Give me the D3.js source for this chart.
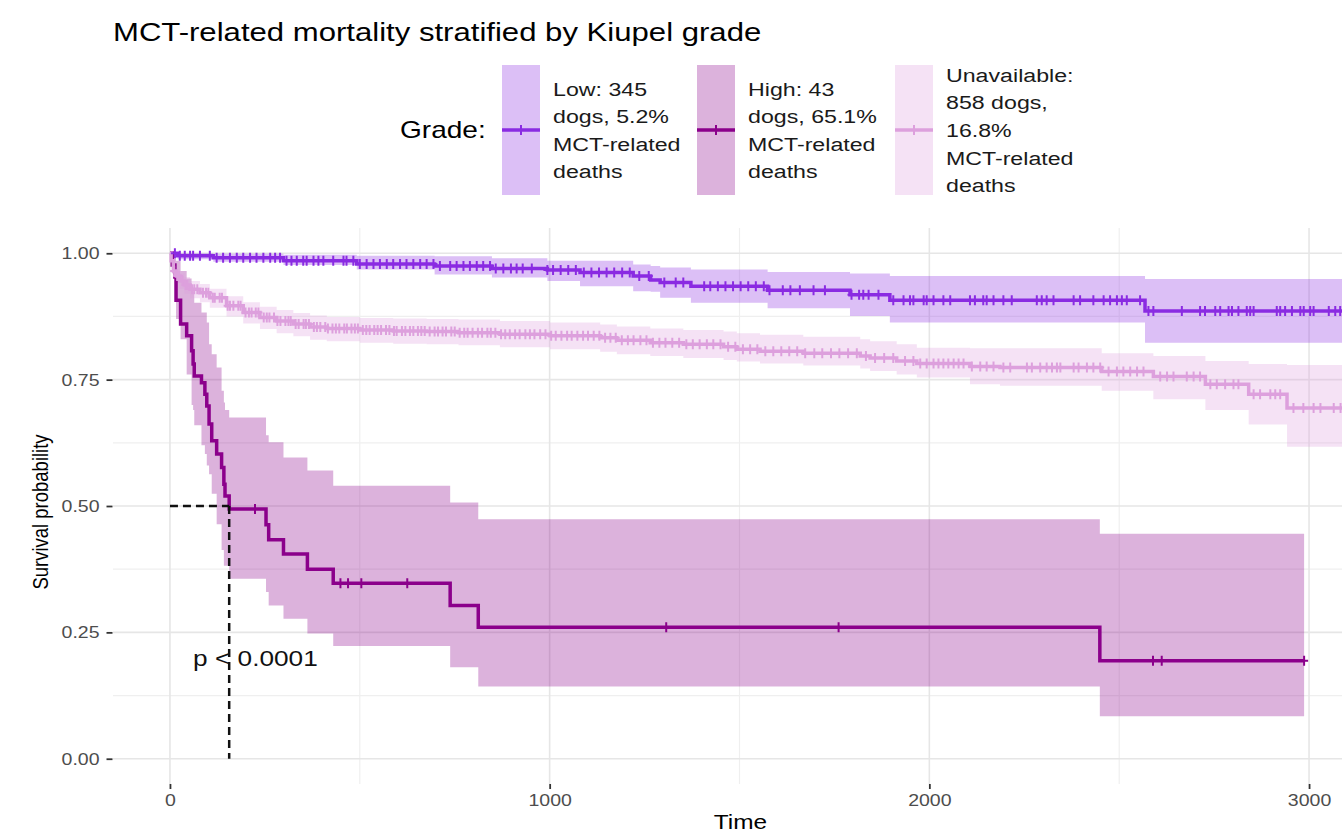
<!DOCTYPE html>
<html>
<head>
<meta charset="utf-8">
<script src="https://cdn.jsdelivr.net/npm/d3@7"></script>
<style>
  body { margin: 0; background: #fff; }
  svg { display: block; font-family: "Liberation Sans", Arial, sans-serif; }
</style>
</head>
<body>
<div id="chart"></div>
<script>
//data: Kaplan-Meier steps (time in days, survival probability)
var lowTime  = [0, 20, 114, 299, 492, 697, 848, 994, 1080, 1220, 1266, 1291, 1372, 1574, 1791, 1896, 2568];
var lowSurv  = [1, 0.995, 0.991, 0.985, 0.979, 0.975, 0.970, 0.967, 0.962, 0.955, 0.947, 0.942, 0.935, 0.927, 0.918, 0.907, 0.886];
var lowUpper = [1, 1, 0.999, 0.997, 0.995, 0.994, 0.990, 0.985, 0.985, 0.978, 0.975, 0.972, 0.968, 0.963, 0.960, 0.955, 0.949];
var lowLower = [1, 0.988, 0.983, 0.977, 0.968, 0.958, 0.952, 0.945, 0.935, 0.925, 0.924, 0.912, 0.902, 0.891, 0.876, 0.863, 0.823];
var lowEnd = 3140;
var lowCensor = [13, 26, 39, 53, 61, 79, 105, 123, 140, 158, 176, 193, 211, 228, 246, 264, 277, 290, 307, 320, 334, 351, 360, 378, 391, 404, 430, 457, 465, 483, 500, 518, 536, 553, 571, 588, 606, 623, 641, 659, 676, 694, 711, 738, 755, 773, 790, 808, 825, 843, 858, 878, 898, 913, 929, 953, 994, 1009, 1029, 1049, 1069, 1090, 1110, 1130, 1150, 1170, 1191, 1211, 1236, 1261, 1302, 1332, 1352, 1407, 1423, 1443, 1463, 1483, 1503, 1523, 1543, 1564, 1579, 1614, 1634, 1659, 1695, 1725, 1795, 1815, 1826, 1840, 1866, 1905, 1932, 1949, 1958, 1985, 1993, 2011, 2037, 2055, 2107, 2120, 2142, 2151, 2169, 2195, 2217, 2283, 2296, 2309, 2327, 2380, 2397, 2432, 2459, 2476, 2494, 2507, 2520, 2555, 2577, 2590, 2665, 2713, 2726, 2753, 2766, 2788, 2797, 2814, 2836, 2845, 2854, 2915, 2924, 2937, 2955, 2977, 2986, 3003, 3012, 3052, 3069, 3082];

var highTime  = [0, 6, 13, 16, 28, 44, 57, 61, 64, 83, 92, 97, 103, 110, 123, 136, 142, 145, 156, 253, 260, 299, 362, 430, 738, 812, 2449];
var highSurv  = [1, 0.977, 0.953, 0.907, 0.860, 0.837, 0.807, 0.781, 0.757, 0.744, 0.721, 0.698, 0.662, 0.629, 0.603, 0.576, 0.543, 0.520, 0.494, 0.463, 0.433, 0.405, 0.375, 0.347, 0.303, 0.260, 0.194];
var highUpper = [1, 1, 0.995, 0.985, 0.965, 0.950, 0.935, 0.925, 0.902, 0.883, 0.883, 0.863, 0.820, 0.800, 0.774, 0.728, 0.705, 0.690, 0.675, 0.640, 0.626, 0.596, 0.570, 0.540, 0.507, 0.474, 0.445];
var highLower = [1, 0.960, 0.940, 0.870, 0.830, 0.760, 0.700, 0.690, 0.660, 0.620, 0.603, 0.580, 0.563, 0.524, 0.464, 0.413, 0.382, 0.382, 0.356, 0.330, 0.303, 0.277, 0.248, 0.223, 0.181, 0.143, 0.084];
var highEnd = 2987;
var highCensor = [224, 449, 469, 504, 625, 1307, 1761, 2589, 2612, 2987];

var unavTime  = [0, 3, 9, 17, 26, 38, 53, 79, 105, 149, 193, 237, 281, 325, 369, 413, 500, 588, 676, 760, 869, 1001, 1133, 1177, 1265, 1352, 1458, 1493, 1554, 1668, 1818, 1844, 1914, 1967, 2107, 2186, 2454, 2590, 2727, 2841, 2942];
var unavSurv  = [1, 0.985, 0.965, 0.955, 0.945, 0.937, 0.929, 0.922, 0.912, 0.896, 0.883, 0.873, 0.866, 0.860, 0.854, 0.851, 0.848, 0.846, 0.845, 0.843, 0.840, 0.837, 0.833, 0.828, 0.823, 0.820, 0.815, 0.810, 0.806, 0.802, 0.797, 0.793, 0.787, 0.782, 0.776, 0.774, 0.766, 0.756, 0.741, 0.721, 0.694];
var unavUpper = [1, 0.993, 0.977, 0.968, 0.960, 0.953, 0.945, 0.939, 0.930, 0.915, 0.903, 0.894, 0.888, 0.882, 0.877, 0.874, 0.872, 0.871, 0.870, 0.869, 0.866, 0.863, 0.859, 0.855, 0.851, 0.848, 0.845, 0.842, 0.839, 0.835, 0.830, 0.826, 0.820, 0.813, 0.812, 0.812, 0.802, 0.797, 0.787, 0.781, 0.779];
var unavLower = [1, 0.977, 0.952, 0.941, 0.930, 0.920, 0.911, 0.903, 0.892, 0.875, 0.861, 0.850, 0.842, 0.836, 0.829, 0.826, 0.823, 0.821, 0.820, 0.818, 0.814, 0.810, 0.805, 0.800, 0.797, 0.793, 0.789, 0.786, 0.782, 0.778, 0.772, 0.767, 0.760, 0.754, 0.741, 0.738, 0.728, 0.711, 0.690, 0.661, 0.617];
var unavEnd = 3140;
var unavCensor = [11, 19, 24, 33, 41, 46, 58, 64, 72, 87, 95, 101, 113, 118, 131, 137, 152, 158, 167, 180, 186, 199, 208, 215, 226, 233, 247, 255, 262, 274, 283, 291, 304, 312, 318, 331, 339, 352, 358, 366, 379, 387, 396, 409, 416, 428, 437, 446, 459, 466, 478, 487, 495, 508, 517, 526, 538, 547, 556, 569, 578, 590, 597, 611, 620, 632, 641, 653, 662, 671, 684, 697, 706, 718, 727, 741, 750, 763, 775, 784, 797, 811, 822, 836, 845, 857, 872, 883, 895, 909, 921, 936, 948, 960, 975, 989, 1004, 1016, 1031, 1046, 1058, 1073, 1088, 1101, 1116, 1131, 1146, 1160, 1174, 1190, 1206, 1221, 1239, 1255, 1272, 1289, 1305, 1323, 1341, 1360, 1377, 1395, 1414, 1431, 1450, 1470, 1489, 1509, 1528, 1547, 1568, 1589, 1610, 1631, 1652, 1673, 1697, 1718, 1741, 1763, 1786, 1809, 1833, 1857, 1881, 1905, 1936, 1958, 1976, 1993, 2011, 2024, 2037, 2050, 2064, 2077, 2090, 2112, 2134, 2151, 2169, 2195, 2213, 2257, 2270, 2292, 2309, 2323, 2336, 2345, 2380, 2393, 2415, 2432, 2450, 2472, 2494, 2511, 2529, 2547, 2564, 2608, 2626, 2643, 2678, 2696, 2713, 2740, 2757, 2779, 2801, 2814, 2854, 2871, 2898, 2911, 2924, 2959, 2985, 3012, 3030, 3065, 3083];

var legendLabels = [
  ["Low: 345", "dogs, 5.2%", "MCT-related", "deaths"],
  ["High: 43", "dogs, 65.1%", "MCT-related", "deaths"],
  ["Unavailable:", "858 dogs,", "16.8%", "MCT-related", "deaths"]
];
var colors = ["#8A2BE2", "#8B008B", "#DDA0DD"];
var xTicks = [0, 1000, 2000, 3000];
var yTicks = [0, 0.25, 0.5, 0.75, 1];
var pText = "p < 0.0001";

//the reference picture is stretched sideways, so text is too
var stretch = 1.22;

var groups = [
  {time: lowTime, surv: lowSurv, upper: lowUpper, lower: lowLower, end: lowEnd, censor: lowCensor},
  {time: highTime, surv: highSurv, upper: highUpper, lower: highLower, end: highEnd, censor: highCensor},
  {time: unavTime, surv: unavSurv, upper: unavUpper, lower: unavLower, end: unavEnd, censor: unavCensor}
];

//turn the arrays into step rows, repeating the last row at the end time
groups.forEach(function(g) {
  g.rows = g.time.map(function(t, i) {
    return {t: t, s: g.surv[i], hi: g.upper[i], lo: g.lower[i]};
  });
  var last = g.rows[g.rows.length - 1];
  g.rows.push({t: g.end, s: last.s, hi: last.hi, lo: last.lo});
});

function survAt(g, t) {
  var i = d3.bisectRight(g.time, t) - 1;
  return g.surv[Math.max(i, 0)];
}

var W = 1342, H = 837;
var panel = {left: 113, right: 1366, top: 228, bottom: 784};

var xScale = d3.scaleLinear().domain([-150, 3150]).range([panel.left, panel.right]);
var yScale = d3.scaleLinear().domain([-0.05, 1.05]).range([panel.bottom, panel.top]);

var svg = d3.select("#chart").append("svg")
  .attr("width", W)
  .attr("height", H);

//grid lines
var xMinor = [500, 1500, 2500];
var yMinor = [0.125, 0.375, 0.625, 0.875];
var grid = svg.append("g");
grid.selectAll(".vminor").data(xMinor).enter().append("line")
  .attr("x1", xScale).attr("x2", xScale)
  .attr("y1", panel.top).attr("y2", panel.bottom)
  .attr("stroke", "#efefef").attr("stroke-width", 1.2);
grid.selectAll(".hminor").data(yMinor).enter().append("line")
  .attr("y1", yScale).attr("y2", yScale)
  .attr("x1", panel.left).attr("x2", panel.right)
  .attr("stroke", "#efefef").attr("stroke-width", 1.2);
grid.selectAll(".vmajor").data(xTicks).enter().append("line")
  .attr("x1", xScale).attr("x2", xScale)
  .attr("y1", panel.top).attr("y2", panel.bottom)
  .attr("stroke", "#e6e6e6").attr("stroke-width", 1.6);
grid.selectAll(".hmajor").data(yTicks).enter().append("line")
  .attr("y1", yScale).attr("y2", yScale)
  .attr("x1", panel.left).attr("x2", panel.right)
  .attr("stroke", "#e6e6e6").attr("stroke-width", 1.6);

//confidence ribbons
var area = d3.area()
  .curve(d3.curveStepAfter)
  .x(function(d) { return xScale(d.t); })
  .y0(function(d) { return yScale(d.lo); })
  .y1(function(d) { return yScale(d.hi); });

groups.forEach(function(g, i) {
  svg.append("path")
    .datum(g.rows)
    .attr("d", area)
    .attr("fill", colors[i])
    .attr("fill-opacity", 0.3);
});

//survival curves
var line = d3.line()
  .curve(d3.curveStepAfter)
  .x(function(d) { return xScale(d.t); })
  .y(function(d) { return yScale(d.s); });

groups.forEach(function(g, i) {
  svg.append("path")
    .datum(g.rows)
    .attr("d", line)
    .attr("fill", "none")
    .attr("stroke", colors[i])
    .attr("stroke-width", 3.5);
});

//censor marks
groups.forEach(function(g, i) {
  svg.append("g").selectAll("path")
    .data(g.censor)
  .enter().append("path")
    .attr("transform", function(t) { return "translate(" + xScale(t) + "," + yScale(survAt(g, t)) + ")"; })
    .attr("d", "M-4,0H4M0,-5V5")
    .attr("stroke", colors[i])
    .attr("stroke-width", 2)
    .attr("fill", "none");
});

//p value
svg.append("text")
  .attr("transform", "translate(" + xScale(61) + "," + (yScale(0.2) + 8) + ") scale(" + stretch + ",1)")
  .style("font-size", "21.5px")
  .attr("fill", "#111")
  .text(pText);

//median survival of the high grade group
var medianIdx = highSurv.findIndex(function(s) { return s <= 0.5; });
var medianTime = highTime[medianIdx];
var dashed = svg.append("g")
  .attr("stroke", "#111")
  .attr("stroke-width", 2.5)
  .attr("stroke-dasharray", "8,5");
dashed.append("line")
  .attr("x1", xScale(0)).attr("x2", xScale(medianTime))
  .attr("y1", yScale(0.5)).attr("y2", yScale(0.5));
dashed.append("line")
  .attr("x1", xScale(medianTime)).attr("x2", xScale(medianTime))
  .attr("y1", yScale(0.5)).attr("y2", yScale(0));

//axes
var yAxis = svg.append("g")
  .attr("transform", "translate(" + (panel.left - 0.5) + ",0)")
  .call(d3.axisLeft(yScale).tickValues(yTicks).tickFormat(d3.format(".2f")).tickSize(6));
var xAxis = svg.append("g")
  .attr("transform", "translate(0," + panel.bottom + ")")
  .call(d3.axisBottom(xScale).tickValues(xTicks).tickFormat(d3.format("d")).tickSize(5));

[xAxis, yAxis].forEach(function(ax) {
  ax.select(".domain").remove();
  ax.selectAll(".tick line").attr("stroke", "#333").attr("stroke-width", 1.8);
  ax.selectAll(".tick text")
    .attr("fill", "#4d4d4d")
    .style("font-size", "16px")
    .style("font-family", "Liberation Sans, Arial, sans-serif");
});
yAxis.selectAll(".tick text")
  .attr("x", null).attr("dy", "0.35em")
  .attr("transform", "translate(-13,0) scale(" + stretch + ",1)");
xAxis.selectAll(".tick text")
  .attr("y", null).attr("dy", null)
  .attr("transform", "translate(0,22) scale(" + stretch + ",1)");

//axis titles
svg.append("text")
  .attr("transform", "translate(" + ((panel.left + 1366) / 2 + 1) + ",829) scale(" + stretch + ",1)")
  .attr("text-anchor", "middle")
  .style("font-size", "20px")
  .text("Time");

svg.append("text")
  .attr("transform", "translate(48," + (yScale(0.5) + 6) + ") scale(" + stretch + ",1) rotate(-90)")
  .attr("text-anchor", "middle")
  .style("font-size", "18.5px")
  .text("Survival probability");

//title
svg.append("text")
  .attr("transform", "translate(113,41) scale(" + stretch + ",1)")
  .style("font-size", "25.5px")
  .text("MCT-related mortality stratified by Kiupel grade");

//legend
var keyX = [502, 697, 895];
var keyTop = 65, keyH = 130, keyW = 38, lineGap = 27.6;
var legendMid = keyTop + keyH / 2;

svg.append("text")
  .attr("transform", "translate(400," + (legendMid + 8) + ") scale(" + stretch + ",1)")
  .style("font-size", "23px")
  .text("Grade:");

keyX.forEach(function(kx, i) {
  var key = svg.append("g").attr("transform", "translate(" + kx + "," + keyTop + ")");
  key.append("rect")
    .attr("width", keyW).attr("height", keyH)
    .attr("fill", colors[i]).attr("fill-opacity", 0.3);
  key.append("line")
    .attr("x1", 0).attr("x2", keyW)
    .attr("y1", keyH / 2).attr("y2", keyH / 2)
    .attr("stroke", colors[i]).attr("stroke-width", 3.5);
  key.append("line")
    .attr("x1", keyW / 2).attr("x2", keyW / 2)
    .attr("y1", keyH / 2 - 5).attr("y2", keyH / 2 + 5)
    .attr("stroke", colors[i]).attr("stroke-width", 2);

  var lines = legendLabels[i];
  var firstBase = legendMid - (lines.length - 1) * lineGap / 2 + 7;
  lines.forEach(function(s, j) {
    svg.append("text")
      .attr("transform", "translate(" + (kx + keyW + 13) + "," + (firstBase + j * lineGap) + ") scale(" + stretch + ",1)")
      .style("font-size", "19px")
      .attr("fill", "#1a1a1a")
      .text(s);
  });
});
</script>
</body>
</html>
